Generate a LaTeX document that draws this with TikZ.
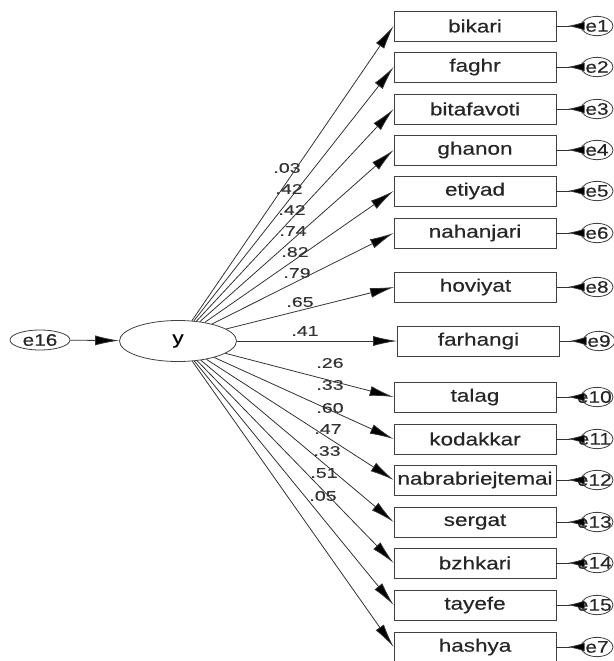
\documentclass[tikz,border=0pt]{standalone}
\usepackage{fontspec}
\usepackage{tikz}
\usetikzlibrary{arrows.meta}
\usetikzlibrary{shapes.geometric}
\newfontfamily\amosfont{Liberation Sans}[FakeStretch=1.25,FakeBold=0.4]
\newfontfamily\coeffont{Liberation Sans}[FakeStretch=1.4,FakeBold=0.3]
\tikzset{
    observed/.style={
           rectangle,
           draw=black!75, line width=0.6pt,
           minimum width=121.5pt,
           minimum height=22.5pt,
           inner sep=0pt,
           font=\amosfont\fontsize{13.5}{15}\selectfont,
           text=black!85,
           },
    latent/.style={
           ellipse,
           draw=black!75, line width=0.6pt,
           minimum width=87.75pt,
           minimum height=30.75pt,
           inner sep=0pt,
           font=\amosfont\fontsize{13.5}{15}\selectfont,
           },
    errc/.style={
           ellipse,
           draw=black!75, line width=0.6pt,
           minimum width=24pt,
           minimum height=14.5pt,
           inner sep=0pt,
           },
    errtext/.style={
           font=\amosfont\fontsize{12.5}{14}\selectfont,
           text=black!85,
           inner sep=0pt,
           },
    coef/.style={
           font=\coeffont\fontsize{10.5}{12}\selectfont,
           text=black!80,
           inner sep=0pt,
           },
    errarrow/.style={
           {Latex[reversed,length=12.75pt,width=6.5pt,fill=black]}-,
           shorten <=-3pt,
           },
}

\begin{document}
\begin{tikzpicture}[x=0.75pt,y=-0.75pt,->,>={Latex[length=18pt,width=7.5pt,fill=black]},
    draw=black!80, line width=0.6pt]
        \useasboundingbox (0,0) rectangle (614,661);

        % Latent variable and its disturbance
        \node[errc, minimum width=45pt, minimum height=15pt] (ERR_16) at (40,340) {};
        \node[errtext] (T_16) at (ERR_16.center) {e16};
        \node[latent] (LAT_Y) at (178,341) {y};

        % Observed items (column on the right)
        \node[observed] (OBS_BIKARI)   at (475,26)  {bikari};
        \node[observed] (OBS_FAGHR)    at (475,67)  {faghr};
        \node[observed] (OBS_BITAFAV)  at (475,109) {bitafavoti};
        \node[observed] (OBS_GHANON)   at (475,150) {ghanon};
        \node[observed] (OBS_ETIYAD)   at (475,191) {etiyad};
        \node[observed] (OBS_NAHANJ)   at (475,233) {nahanjari};
        \node[observed] (OBS_HOVIYAT)  at (475.5,287) {hoviyat};
        \node[observed] (OBS_FARHANG)  at (478.5,341) {farhangi};
        \node[observed] (OBS_TALAG)    at (475,397) {talag};
        \node[observed] (OBS_KODAK)    at (475,439) {kodakkar};
        \node[observed] (OBS_NABRA)    at (475,480) {nabrabriejtemai};
        \node[observed] (OBS_SERGAT)   at (475,522) {sergat};
        \node[observed] (OBS_BZHKARI)  at (475,563) {bzhkari};
        \node[observed] (OBS_TAYEFE)   at (475,605) {tayefe};
        \node[observed] (OBS_HASHYA)   at (475,647) {hashya};

        % Error terms (circles, text runs over them)
        \node[errc] (ERR_1)  at (597,26)  {};  \node[errtext] at (ERR_1)  {e1};
        \node[errc] (ERR_2)  at (597,67)  {};  \node[errtext] at (ERR_2)  {e2};
        \node[errc] (ERR_3)  at (597,109) {};  \node[errtext] at (ERR_3)  {e3};
        \node[errc] (ERR_4)  at (597,150) {};  \node[errtext] at (ERR_4)  {e4};
        \node[errc] (ERR_5)  at (597,191) {};  \node[errtext] at (ERR_5)  {e5};
        \node[errc] (ERR_6)  at (597,233) {};  \node[errtext] at (ERR_6)  {e6};
        \node[errc] (ERR_8)  at (597,287) {};  \node[errtext] at (ERR_8)  {e8};
        \node[errc] (ERR_9)  at (599,341) {};  \node[errtext] at (ERR_9)  {e9};
        \node[errc] (ERR_10) at (597,397) {};  \node[errtext, xshift=-2pt] at (ERR_10) {e10};
        \node[errc] (ERR_11) at (597,439) {};  \node[errtext, xshift=-2pt] at (ERR_11) {e11};
        \node[errc] (ERR_12) at (597,480) {};  \node[errtext, xshift=-2pt] at (ERR_12) {e12};
        \node[errc] (ERR_13) at (597,522) {};  \node[errtext, xshift=-2pt] at (ERR_13) {e13};
        \node[errc] (ERR_14) at (597,563) {};  \node[errtext, xshift=-2pt] at (ERR_14) {e14};
        \node[errc] (ERR_15) at (597,605) {};  \node[errtext, xshift=-2pt] at (ERR_15) {e15};
        \node[errc] (ERR_7)  at (597,647) {};  \node[errtext] at (ERR_7)  {e7};

        % loadings
        \node[coef] (C_BIKARI)  at (287,168) {.03};
        \node[coef] (C_FAGHR)   at (289,189) {.42};
        \node[coef] (C_BITAFAV) at (292,210) {.42};
        \node[coef] (C_GHANON)  at (293,231) {.74};
        \node[coef] (C_ETIYAD)  at (295,252) {.82};
        \node[coef] (C_NAHANJ)  at (297,273) {.79};
        \node[coef] (C_HOVIYAT) at (300,302) {.65};
        \node[coef] (C_FARHANG) at (305,331) {.41};
        \node[coef] (C_TALAG)   at (330,363) {.26};
        \node[coef] (C_KODAK)   at (330,385) {.33};
        \node[coef] (C_NABRA)   at (330,408) {.60};
        \node[coef] (C_SERGAT)  at (328,429) {.47};
        \node[coef] (C_BZHKARI) at (327,451) {.33};
        \node[coef] (C_TAYEFE)  at (324,473) {.51};
        \node[coef] (C_HASHYA)  at (323,496) {.05};

        % draw the paths from y to every item
        \path
            (ERR_16) edge (LAT_Y)
            (LAT_Y)  edge (OBS_BIKARI.west)
            (LAT_Y)  edge (OBS_FAGHR.west)
            (LAT_Y)  edge (OBS_BITAFAV.west)
            (LAT_Y)  edge (OBS_GHANON.west)
            (LAT_Y)  edge (OBS_ETIYAD.west)
            (LAT_Y)  edge (OBS_NAHANJ.west)
            (LAT_Y)  edge (OBS_HOVIYAT.west)
            (LAT_Y)  edge (OBS_FARHANG.west)
            (LAT_Y)  edge (OBS_TALAG.west)
            (LAT_Y)  edge (OBS_KODAK.west)
            (LAT_Y)  edge (OBS_NABRA.west)
            (LAT_Y)  edge (OBS_SERGAT.west)
            (LAT_Y)  edge (OBS_BZHKARI.west)
            (LAT_Y)  edge (OBS_TAYEFE.west)
            (LAT_Y)  edge (OBS_HASHYA.west)
            ;

        % error arrows into the items
        \path
            (ERR_1)  edge[errarrow] (OBS_BIKARI)
            (ERR_2)  edge[errarrow] (OBS_FAGHR)
            (ERR_3)  edge[errarrow] (OBS_BITAFAV)
            (ERR_4)  edge[errarrow] (OBS_GHANON)
            (ERR_5)  edge[errarrow] (OBS_ETIYAD)
            (ERR_6)  edge[errarrow] (OBS_NAHANJ)
            (ERR_8)  edge[errarrow] (OBS_HOVIYAT)
            (ERR_9)  edge[errarrow] (OBS_FARHANG)
            (ERR_10) edge[errarrow] (OBS_TALAG)
            (ERR_11) edge[errarrow] (OBS_KODAK)
            (ERR_12) edge[errarrow] (OBS_NABRA)
            (ERR_13) edge[errarrow] (OBS_SERGAT)
            (ERR_14) edge[errarrow] (OBS_BZHKARI)
            (ERR_15) edge[errarrow] (OBS_TAYEFE)
            (ERR_7)  edge[errarrow] (OBS_HASHYA)
            ;

\end{tikzpicture}
\end{document}
